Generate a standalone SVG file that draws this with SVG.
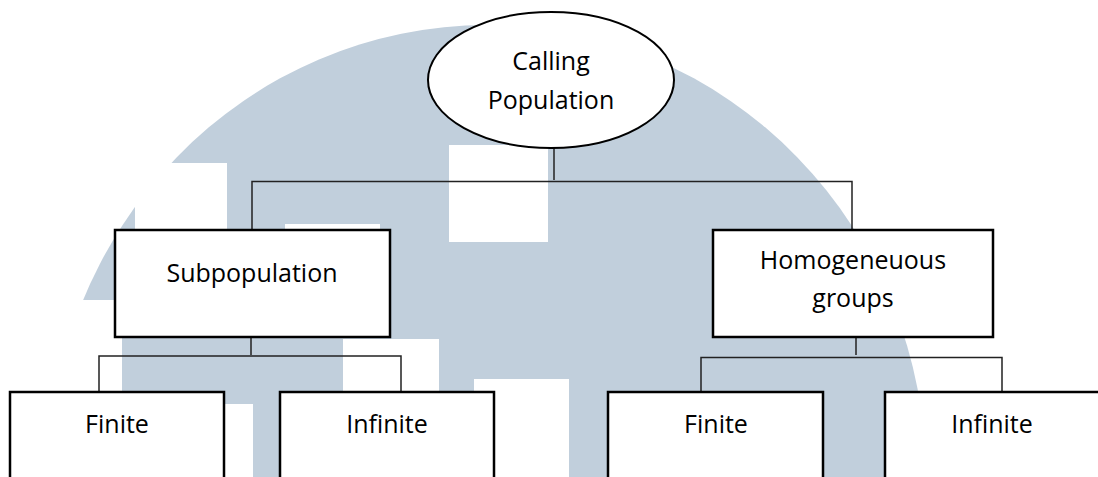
<svg xmlns="http://www.w3.org/2000/svg" width="1098" height="477" viewBox="0 0 1098 477">
  <style>
    .node { fill: #ffffff; stroke: #000000; stroke-width: 2.5; }
    .oval { fill: #ffffff; stroke: #000000; stroke-width: 2; }
    .label { font-family: "Open Sans", "Liberation Sans", sans-serif; font-size: 25px; fill: #000000; text-anchor: middle; }
    .link { fill: none; stroke: #222222; stroke-width: 1.5; }
    .wm { fill: #c1cfdc; }
    .cut { fill: #ffffff; }
  </style>

  <rect width="1098" height="477" fill="#ffffff"/>

  <!-- background logo: dome with window cut-outs -->
  <g id="watermark">
    <ellipse class="wm" cx="487" cy="477" rx="439" ry="452"/>
    <rect class="cut" x="135" y="163" width="92" height="137"/>
    <rect class="cut" x="0" y="300" width="122" height="177"/>
    <rect class="cut" x="0" y="404" width="253" height="73"/>
    <rect class="cut" x="285" y="224" width="95" height="113"/>
    <rect class="cut" x="343" y="339" width="96" height="138"/>
    <rect class="cut" x="449" y="145" width="99" height="97"/>
    <rect class="cut" x="474" y="379" width="95" height="98"/>
  </g>

  <g id="connectors">
    <!-- root to level 1 -->
    <line class="link" x1="554" y1="148" x2="554" y2="180"/>
    <polyline class="link" points="252,231 252,181.5 852,181.5 852,232"/>
    <!-- Subpopulation to its children -->
    <line class="link" x1="251" y1="337" x2="251" y2="355"/>
    <polyline class="link" points="99,392 99,356 401,356 401,393"/>
    <!-- Homogeneuous groups to its children -->
    <line class="link" x1="856" y1="338" x2="856" y2="355"/>
    <polyline class="link" points="701,392 701,357.5 1002,357.5 1002,394"/>
  </g>

  <g id="calling-population">
    <ellipse class="oval" cx="551" cy="80" rx="123" ry="68"/>
    <text class="label" x="551" y="70">Calling</text>
    <text class="label" x="551" y="109">Population</text>
  </g>

  <g id="subpopulation">
    <rect class="node" x="115" y="230" width="275" height="107"/>
    <text class="label" x="252" y="282">Subpopulation</text>
  </g>

  <g id="homogeneous-groups">
    <rect class="node" x="713" y="230" width="280" height="107"/>
    <text class="label" x="853" y="269">Homogeneuous</text>
    <text class="label" x="853" y="307">groups</text>
  </g>

  <g id="sub-finite">
    <rect class="node" x="10" y="392" width="214" height="110"/>
    <text class="label" x="117" y="433">Finite</text>
  </g>

  <g id="sub-infinite">
    <rect class="node" x="280" y="392" width="214" height="110"/>
    <text class="label" x="387" y="433">Infinite</text>
  </g>

  <g id="homog-finite">
    <rect class="node" x="608" y="392" width="215" height="110"/>
    <text class="label" x="716" y="433">Finite</text>
  </g>

  <g id="homog-infinite">
    <rect class="node" x="885" y="392" width="215" height="110"/>
    <text class="label" x="992" y="433">Infinite</text>
  </g>
</svg>
